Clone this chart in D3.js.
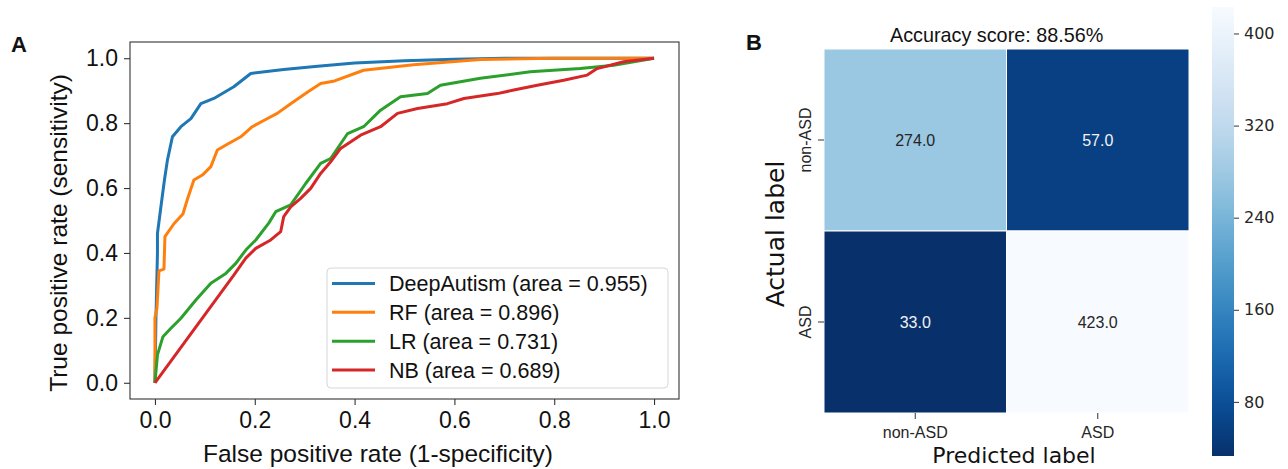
<!DOCTYPE html>
<html>
<head>
<meta charset="utf-8">
<script src="https://cdn.jsdelivr.net/npm/d3@7"></script>
<style>
  body { margin: 0; background: #fff; }
  svg { display: block; }
</style>
</head>
<body>
<svg id="chart" width="1288" height="469"></svg>
<script>
// ---------- Panel A data: ROC curves ----------
const rocNames = ["DeepAutism (area = 0.955)", "RF (area = 0.896)", "LR (area = 0.731)", "NB (area = 0.689)"];
const rocColors = ["#1f77b4", "#ff7f0e", "#2ca02c", "#d62728"];

const deepFpr = [0, 0.002, 0.005, 0.005, 0.012, 0.019, 0.025, 0.035, 0.052, 0.072, 0.092, 0.118, 0.158, 0.192, 0.258, 0.326, 0.4, 0.5, 0.6, 0.7, 1.0];
const deepTpr = [0, 0.2, 0.4, 0.46, 0.543, 0.625, 0.686, 0.758, 0.789, 0.814, 0.86, 0.876, 0.912, 0.953, 0.965, 0.975, 0.985, 0.992, 0.997, 1.0, 1.0];

const rfFpr = [0, 0, 0.004, 0.008, 0.018, 0.02, 0.038, 0.056, 0.066, 0.078, 0.095, 0.112, 0.125, 0.145, 0.172, 0.195, 0.219, 0.245, 0.272, 0.306, 0.332, 0.36, 0.418, 0.518, 0.652, 0.8, 1.0];
const rfTpr = [0, 0.2, 0.23, 0.345, 0.35, 0.45, 0.49, 0.52, 0.57, 0.625, 0.64, 0.666, 0.717, 0.735, 0.758, 0.789, 0.809, 0.83, 0.86, 0.896, 0.922, 0.93, 0.963, 0.98, 0.996, 1.0, 1.0];

const lrFpr = [0, 0.005, 0.016, 0.032, 0.052, 0.082, 0.112, 0.142, 0.162, 0.182, 0.202, 0.228, 0.242, 0.272, 0.302, 0.332, 0.352, 0.386, 0.418, 0.452, 0.492, 0.546, 0.572, 0.652, 0.752, 0.852, 0.919, 1.0];
const lrTpr = [0, 0.086, 0.142, 0.168, 0.199, 0.255, 0.307, 0.337, 0.368, 0.409, 0.44, 0.492, 0.527, 0.548, 0.614, 0.676, 0.691, 0.768, 0.789, 0.84, 0.881, 0.891, 0.917, 0.938, 0.958, 0.968, 0.978, 1.0];

const nbFpr = [0, 0.158, 0.182, 0.202, 0.232, 0.252, 0.258, 0.272, 0.292, 0.312, 0.332, 0.352, 0.372, 0.412, 0.452, 0.486, 0.526, 0.586, 0.619, 0.686, 0.719, 0.766, 0.819, 0.866, 0.886, 0.939, 1.0];
const nbTpr = [0, 0.332, 0.384, 0.414, 0.44, 0.466, 0.512, 0.542, 0.568, 0.599, 0.645, 0.681, 0.722, 0.763, 0.789, 0.83, 0.845, 0.86, 0.876, 0.891, 0.902, 0.917, 0.932, 0.948, 0.968, 0.989, 1.0];

const rocTicks = [0.0, 0.2, 0.4, 0.6, 0.8, 1.0];

// ---------- Panel B data: confusion matrix ----------
const classLabels = ["non-ASD", "ASD"];
const confusion = [[274, 57], [33, 423]];
const accuracyText = "Accuracy score: 88.56%";
const colorbarTicks = [80, 160, 240, 320, 400];

// ---------- Drawing ----------
const svg = d3.select("#chart");
const SANS = "'Liberation Sans', Arial, Helvetica, sans-serif";
const DEJAVU = "'DejaVu Sans', sans-serif";

// ===== Panel A =====
const xA = d3.scaleLinear().domain([-0.05, 1.05]).range([130, 679]);
const yA = d3.scaleLinear().domain([-0.05, 1.05]).range([399, 42]);

svg.append("text").attr("x", 11).attr("y", 52)
  .attr("font-family", SANS).attr("font-weight", "bold").attr("font-size", 22)
  .attr("fill", "#111").text("A");

const gA = svg.append("g");

const xAxisA = gA.append("g").attr("transform", "translate(0,399)")
  .call(d3.axisBottom(xA).tickValues(rocTicks).tickFormat(d3.format(".1f")).tickSize(6).tickPadding(6.5));
const yAxisA = gA.append("g").attr("transform", "translate(130,0)")
  .call(d3.axisLeft(yA).tickValues(rocTicks).tickFormat(d3.format(".1f")).tickSize(6).tickPadding(6));
[xAxisA, yAxisA].forEach(ax => {
  ax.select(".domain").remove();
  ax.selectAll(".tick line").attr("stroke", "#333").attr("stroke-width", 1.1);
  ax.selectAll(".tick text").attr("font-family", SANS).attr("font-size", 23).attr("fill", "#111");
});

const series = [[deepFpr, deepTpr], [rfFpr, rfTpr], [lrFpr, lrTpr], [nbFpr, nbTpr]];
const lineA = d3.line().x(d => xA(d[0])).y(d => yA(d[1]));
series.forEach((s, i) => {
  const pts = s[0].map((f, j) => [f, s[1][j]]);
  gA.append("path").datum(pts)
    .attr("d", lineA)
    .attr("fill", "none")
    .attr("stroke", rocColors[i])
    .attr("stroke-width", 3)
    .attr("stroke-linejoin", "round");
});

// frame
gA.append("rect").attr("x", 130).attr("y", 42).attr("width", 549).attr("height", 357)
  .attr("fill", "none").attr("stroke", "#333").attr("stroke-width", 1.1);

// axis labels
gA.append("text").attr("x", 378).attr("y", 461.5).attr("text-anchor", "middle")
  .attr("font-family", SANS).attr("font-size", 24.5).attr("fill", "#111")
  .text("False positive rate (1-specificity)");
gA.append("text").attr("transform", "translate(67,233) rotate(-90)").attr("text-anchor", "middle")
  .attr("font-family", SANS).attr("font-size", 24.5).attr("fill", "#111")
  .text("True positive rate (sensitivity)");

// legend
const leg = gA.append("g");
leg.append("rect").attr("x", 327).attr("y", 268).attr("width", 341).attr("height", 120)
  .attr("rx", 4).attr("fill", "#fff").attr("fill-opacity", 0.9)
  .attr("stroke", "#d6d6d6").attr("stroke-width", 1);
const legRowY = d3.scalePoint().domain(d3.range(rocNames.length)).range([283.5, 370]);
rocNames.forEach((name, i) => {
  const y = legRowY(i);
  leg.append("line").attr("x1", 332).attr("x2", 375).attr("y1", y).attr("y2", y)
    .attr("stroke", rocColors[i]).attr("stroke-width", 3);
  leg.append("text").attr("x", 389).attr("y", y + 7.5)
    .attr("font-family", SANS).attr("font-size", 21.5).attr("fill", "#111").text(name);
});

// ===== Panel B =====
svg.append("text").attr("x", 746).attr("y", 50)
  .attr("font-family", SANS).attr("font-weight", "bold").attr("font-size", 22)
  .attr("fill", "#111").text("B");

const gB = svg.append("g");
const xB = d3.scaleBand().domain(classLabels).range([824, 1189]);
const yB = d3.scaleBand().domain(classLabels).range([49, 413]);
const vals = confusion.flat();
const cmin = d3.min(vals), cmax = d3.max(vals);
// reversed Blues: low counts dark, high counts light
const color = d3.scaleSequential(t => d3.interpolateBlues(1 - t)).domain([cmin, cmax]);
const norm = d3.scaleLinear().domain([cmin, cmax]).range([0, 1]);

const cells = [];
confusion.forEach((row, r) => row.forEach((v, c) => cells.push({ r, c, v })));

gB.selectAll("rect.cell").data(cells).enter().append("rect")
  .attr("class", "cell")
  .attr("x", d => xB(classLabels[d.c]))
  .attr("y", d => yB(classLabels[d.r]))
  .attr("width", xB.bandwidth())
  .attr("height", yB.bandwidth())
  .attr("fill", d => color(d.v))
  .attr("stroke", "#fff").attr("stroke-width", 1);

gB.selectAll("text.ann").data(cells).enter().append("text")
  .attr("class", "ann")
  .attr("x", d => xB(classLabels[d.c]) + xB.bandwidth() / 2)
  .attr("y", d => yB(classLabels[d.r]) + yB.bandwidth() / 2)
  .attr("dy", "0.36em")
  .attr("text-anchor", "middle")
  .attr("font-family", SANS).attr("font-size", 16)
  .attr("fill", d => norm(d.v) > 0.5 ? "#262626" : "#f2f2f2")
  .text(d => d.v.toFixed(1));

// axes for heatmap
const xAxisB = gB.append("g").attr("transform", "translate(0,413)")
  .call(d3.axisBottom(xB).tickSize(6).tickPadding(8));
const yAxisB = gB.append("g").attr("transform", "translate(824,0)")
  .call(d3.axisLeft(yB).tickSize(6).tickPadding(8));
[xAxisB, yAxisB].forEach(ax => {
  ax.select(".domain").remove();
  ax.selectAll(".tick line").attr("stroke", "#333").attr("stroke-width", 1);
  ax.selectAll(".tick text").attr("font-family", SANS).attr("font-size", 16).attr("fill", "#262626");
});
yAxisB.selectAll(".tick text")
  .attr("transform", "rotate(-90)")
  .attr("x", 0).attr("y", -13).attr("dy", 0)
  .attr("text-anchor", "middle");

// title and labels
gB.append("text").attr("x", 890).attr("y", 41.5)
  .attr("font-family", SANS).attr("font-size", 19.8).attr("fill", "#111").text(accuracyText);
gB.append("text").attr("x", 1014).attr("y", 463).attr("text-anchor", "middle")
  .attr("font-family", DEJAVU).attr("font-size", 22).attr("fill", "#111").text("Predicted label");
gB.append("text").attr("transform", "translate(784,234) rotate(-90)").attr("text-anchor", "middle")
  .attr("font-family", DEJAVU).attr("font-size", 25).attr("fill", "#111").text("Actual label");

// colorbar
const yC = d3.scaleLinear().domain([cmin, cmax]).range([456, 7]);
const defs = svg.append("defs");
const grad = defs.append("linearGradient").attr("id", "cbar")
  .attr("x1", 0).attr("y1", 1).attr("x2", 0).attr("y2", 0);
d3.range(0, 1.0001, 0.05).forEach(t => {
  grad.append("stop").attr("offset", t).attr("stop-color", d3.interpolateBlues(1 - t));
});
gB.append("rect").attr("x", 1212).attr("y", 7).attr("width", 22).attr("height", 449)
  .attr("fill", "url(#cbar)");
const cAxis = gB.append("g").attr("transform", "translate(1234,0)")
  .call(d3.axisRight(yC).tickValues(colorbarTicks).tickSize(5).tickPadding(5));
cAxis.select(".domain").remove();
cAxis.selectAll(".tick line").attr("stroke", "#333");
cAxis.selectAll(".tick text").attr("font-family", DEJAVU).attr("font-size", 16).attr("fill", "#262626");
</script>
</body>
</html>
